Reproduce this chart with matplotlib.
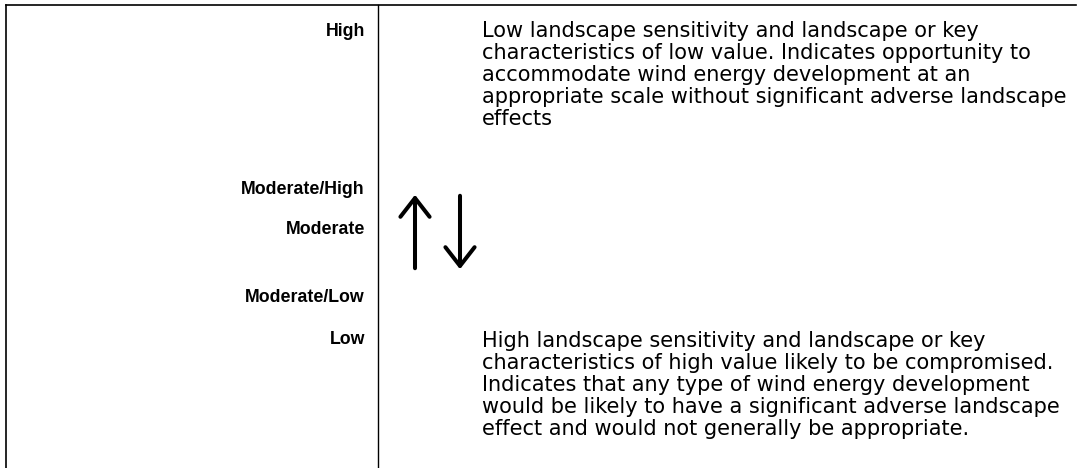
import matplotlib.pyplot as plt

plt.rcParams['font.family'] = ['DejaVu Sans']

# Skala sensitivitas lanskap
levels = ['High', 'Moderate/High', 'Moderate', 'Moderate/Low', 'Low']
level_y = [31, 189, 229, 298, 340]

desc_high = ["Low landscape sensitivity and landscape or key",
             "characteristics of low value. Indicates opportunity to",
             "accommodate wind energy development at an",
             "appropriate scale without significant adverse landscape",
             "effects"]
desc_low = ["High landscape sensitivity and landscape or key",
            "characteristics of high value likely to be compromised.",
            "Indicates that any type of wind energy development",
            "would be likely to have a significant adverse landscape",
            "effect and would not generally be appropriate."]
desc_y = [level_y[0], level_y[-1] + 1]
descs = [desc_high, desc_low]

fig = plt.figure(figsize=(10.85, 4.68), dpi=100)
ax = fig.add_axes([0, 0, 1, 1])
ax.set_xlim(0, 1085)
ax.set_ylim(468, 0)
ax.axis('off')

# garis tabel
ax.plot([6, 1076], [5, 5], color='black', lw=1.2)
ax.plot([6, 6], [5, 468], color='black', lw=1.2)
ax.plot([378, 378], [5, 468], color='black', lw=1.0)

for lab, y in zip(levels, level_y):
    ax.text(365, y, lab, ha='right', va='center', fontsize=12.8,
            fontweight='bold', family='Liberation Sans')

line_gap = 22
for d, y0 in zip(descs, desc_y):
    for i, line in enumerate(d):
        ax.text(482, y0 + i * line_gap, line, ha='left', va='center', fontsize=15)

# panah naik / turun
ax.annotate('', xy=(415, 192), xytext=(415, 271),
            arrowprops=dict(arrowstyle='->,head_length=1.35,head_width=1.05', lw=2.9, color='black'))
ax.annotate('', xy=(460, 272), xytext=(460, 193),
            arrowprops=dict(arrowstyle='->,head_length=1.35,head_width=1.05', lw=2.9, color='black'))

plt.savefig('out.png', dpi=100)
